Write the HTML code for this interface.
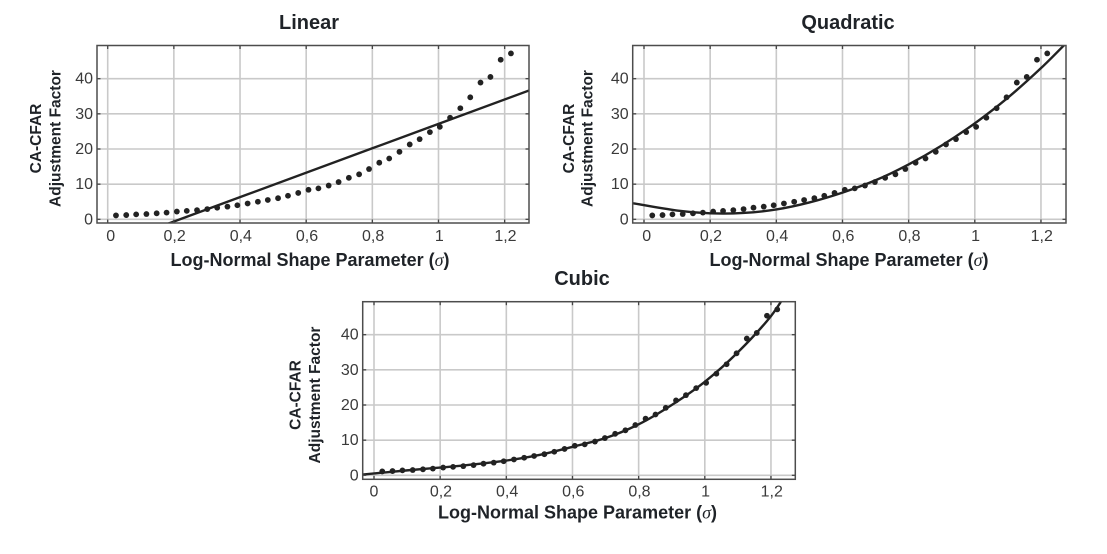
<!DOCTYPE html>
<html lang="en">
<head>
<meta charset="utf-8">
<title>CA-CFAR Adjustment Factor fits</title>
<style>
  html, body { margin: 0; padding: 0; background: #fff; }
  svg { display: block; }
  text { font-family: "Liberation Sans", sans-serif; }
  .title { font-size: 20px; font-weight: 700; fill: #1f2328; text-anchor: middle; }
  .x-title { font-size: 18px; font-weight: 700; fill: #1f2328; text-anchor: middle; }
  .y-title { font-size: 15.5px; font-weight: 700; fill: #1f2328; text-anchor: middle; }
  .tick { font-size: 16px; fill: #3a3a3a; }
  .sigma { font-family: "Liberation Serif", serif; font-style: italic; font-weight: 400; }
</style>
</head>
<body>
<svg id="figure" width="1107" height="554" viewBox="0 0 1107 554" xmlns="http://www.w3.org/2000/svg"></svg>
<script>
const xTicks = [0, 0.2, 0.4, 0.6, 0.8, 1, 1.2];
const xTickLabels = ['0', '0,2', '0,4', '0,6', '0,8', '1', '1,2'];
const yTicks = [0, 10, 20, 30, 40];
const yTickLabels = ['0', '10', '20', '30', '40'];

const sigmaValues = [0.025, 0.056, 0.086, 0.117, 0.148, 0.178, 0.209, 0.239, 0.270, 0.301,
  0.331, 0.362, 0.392, 0.423, 0.454, 0.484, 0.515, 0.545, 0.576, 0.607,
  0.637, 0.668, 0.698, 0.729, 0.760, 0.790, 0.821, 0.851, 0.882, 0.913,
  0.943, 0.974, 1.004, 1.035, 1.066, 1.096, 1.127, 1.157, 1.188, 1.219];
const adjustmentValues = [1.1, 1.2, 1.4, 1.5, 1.7, 1.9, 2.2, 2.4, 2.6, 2.9,
  3.3, 3.6, 4.0, 4.5, 5.0, 5.5, 6.0, 6.7, 7.5, 8.4,
  8.8, 9.6, 10.6, 11.8, 12.8, 14.3, 16.1, 17.3, 19.2, 21.3,
  22.8, 24.8, 26.3, 28.9, 31.6, 34.7, 38.9, 40.5, 45.4, 47.2];

const linearFitSigma = [-0.035, 0.8, 1.275];
const linearFitValues = [-8.8, 20.2, 36.7];

const quadraticFitSigma = [-0.035, 0.1, 0.2, 0.3, 0.4, 0.5, 0.6, 0.7, 0.8, 0.9, 1.0, 1.1, 1.2, 1.28];
const quadraticFitValues = [4.6, 2.5, 1.7, 1.8, 2.8, 4.8, 7.6, 11.1, 15.6, 21.0, 27.3, 34.6, 43.0, 50.5];

const cubicFitSigma = [-0.035, 0.1, 0.2, 0.3, 0.4, 0.5, 0.6, 0.7, 0.8, 0.9, 1.0, 1.1, 1.2, 1.26];
const cubicFitValues = [0.2, 1.4, 2.2, 3.1, 4.2, 5.8, 8.1, 10.6, 14.5, 20.0, 26.6, 35.0, 45.3, 54.0];

const svgNS = 'http://www.w3.org/2000/svg';
const figure = document.getElementById('figure');

function make(parent, tag, attrs, content) {
  const el = document.createElementNS(svgNS, tag);
  for (const key in attrs) el.setAttribute(key, attrs[key]);
  if (content !== undefined) el.textContent = content;
  parent.appendChild(el);
  return el;
}

function smoothPath(px, py) {
  let d = 'M' + px[0].toFixed(2) + ' ' + py[0].toFixed(2);
  for (let i = 0; i < px.length - 1; i++) {
    const a = Math.max(i - 1, 0), b = Math.min(i + 2, px.length - 1);
    const c1x = px[i] + (px[i + 1] - px[a]) / 6, c1y = py[i] + (py[i + 1] - py[a]) / 6;
    const c2x = px[i + 1] - (px[b] - px[i]) / 6, c2y = py[i + 1] - (py[b] - py[i]) / 6;
    d += 'C' + [c1x, c1y, c2x, c2y, px[i + 1], py[i + 1]].map(v => v.toFixed(2)).join(' ');
  }
  return d;
}

function drawChart(cfg) {
  const xScale = v => cfg.x0 + v * 330.8;
  const yScale = v => cfg.y0 - v * 3.515;
  const slug = cfg.slug;

  const group = make(figure, 'g', {});
  
  

  const clip = make(group, 'clipPath', { id: 'clip-' + slug });
  make(clip, 'rect', { x: cfg.left, y: cfg.top, width: cfg.right - cfg.left, height: cfg.bottom - cfg.top });

  const title = make(group, 'text', { class: 'title', x: cfg.titleX, y: cfg.titleY }, cfg.title);
  
  

  const gridGroup = make(group, 'g', { stroke: '#c9c9c9', 'stroke-width': 1.6 });
  
  
  xTicks.forEach(t => make(gridGroup, 'line', { x1: xScale(t), x2: xScale(t), y1: cfg.top, y2: cfg.bottom }));
  yTicks.forEach(t => make(gridGroup, 'line', { x1: cfg.left, x2: cfg.right, y1: yScale(t), y2: yScale(t) }));

  const fit = make(group, 'path', {
    d: smoothPath(cfg.fitSigma.map(xScale), cfg.fitValues.map(yScale)),
    fill: 'none', stroke: '#222', 'stroke-width': 2.4, 'clip-path': 'url(#clip-' + slug + ')'
  });
  
  

  const pointGroup = make(group, 'g', { fill: '#222' });
  
  
  sigmaValues.forEach((s, i) => {
    const dot = make(pointGroup, 'circle', { cx: xScale(s), cy: yScale(adjustmentValues[i]), r: 2.9 });
    
    
  });

  const tickGroup = make(group, 'g', { stroke: '#444', 'stroke-width': 1.3 });
  
  
  xTicks.forEach(t => {
    make(tickGroup, 'line', { x1: xScale(t), x2: xScale(t), y1: cfg.top, y2: cfg.top + 3.5 });
    make(tickGroup, 'line', { x1: xScale(t), x2: xScale(t), y1: cfg.bottom, y2: cfg.bottom - 3.5 });
  });
  yTicks.forEach(t => {
    make(tickGroup, 'line', { x1: cfg.left, x2: cfg.left + 3.5, y1: yScale(t), y2: yScale(t) });
    make(tickGroup, 'line', { x1: cfg.right, x2: cfg.right - 3.5, y1: yScale(t), y2: yScale(t) });
  });

  const frame = make(group, 'rect', {
    x: cfg.left, y: cfg.top, width: cfg.right - cfg.left, height: cfg.bottom - cfg.top,
    fill: 'none', stroke: '#4d4d4d', 'stroke-width': 1.5
  });
  
  

  xTicks.forEach((t, i) => {
    const labelX = xScale(t) + (t === 0 ? cfg.zeroLabelShift : 0.8);
    const label = make(group, 'text', { class: 'tick', x: labelX, y: cfg.bottom + cfg.xTickGap, 'text-anchor': 'middle' }, xTickLabels[i]);
    
    
  });
  yTicks.forEach((t, i) => {
    const label = make(group, 'text', { class: 'tick', x: cfg.left - 4, y: yScale(t) + 5, 'text-anchor': 'end' }, yTickLabels[i]);
    
    
  });

  const xTitle = make(group, 'text', { class: 'x-title', x: cfg.xTitleX, y: cfg.bottom + cfg.xTitleGap });
  
  
  make(xTitle, 'tspan', {}, 'Log-Normal Shape Parameter (');
  make(xTitle, 'tspan', { class: 'sigma' }, 'σ');
  make(xTitle, 'tspan', {}, ')');

  const yTitleLine1 = make(group, 'text', {
    class: 'y-title', transform: 'translate(' + cfg.yTitle1X + ' ' + cfg.yTitleY + ') rotate(-90)'
  }, 'CA-CFAR');
  
  

  const yTitleLine2 = make(group, 'text', {
    class: 'y-title', transform: 'translate(' + cfg.yTitle2X + ' ' + cfg.yTitleY + ') rotate(-90)'
  }, 'Adjustment Factor');
  
  
}

drawChart({
  slug: 'linear', title: 'Linear', titleX: 309, titleY: 29,
  left: 97, right: 529, top: 45.5, bottom: 223, x0: 107.7, y0: 219.3,
  xTitleX: 310, xTitleGap: 43, xTickGap: 18, zeroLabelShift: 3,
  yTitle1X: 41, yTitle2X: 60.5, yTitleY: 138.5,
  fitSigma: linearFitSigma, fitValues: linearFitValues
});
drawChart({
  slug: 'quadratic', title: 'Quadratic', titleX: 848, titleY: 29,
  left: 632.7, right: 1066, top: 45.5, bottom: 223, x0: 644, y0: 219.3,
  xTitleX: 849, xTitleGap: 43, xTickGap: 18, zeroLabelShift: 2.7,
  yTitle1X: 574, yTitle2X: 592.7, yTitleY: 138.5,
  fitSigma: quadraticFitSigma, fitValues: quadraticFitValues
});
drawChart({
  slug: 'cubic', title: 'Cubic', titleX: 582, titleY: 285,
  left: 362.7, right: 795.3, top: 301.7, bottom: 479.3, x0: 374, y0: 475.3,
  xTitleX: 577.5, xTitleGap: 39, xTickGap: 17, zeroLabelShift: 0,
  yTitle1X: 300.7, yTitle2X: 320, yTitleY: 395,
  fitSigma: cubicFitSigma, fitValues: cubicFitValues
});
</script>
</body>
</html>
